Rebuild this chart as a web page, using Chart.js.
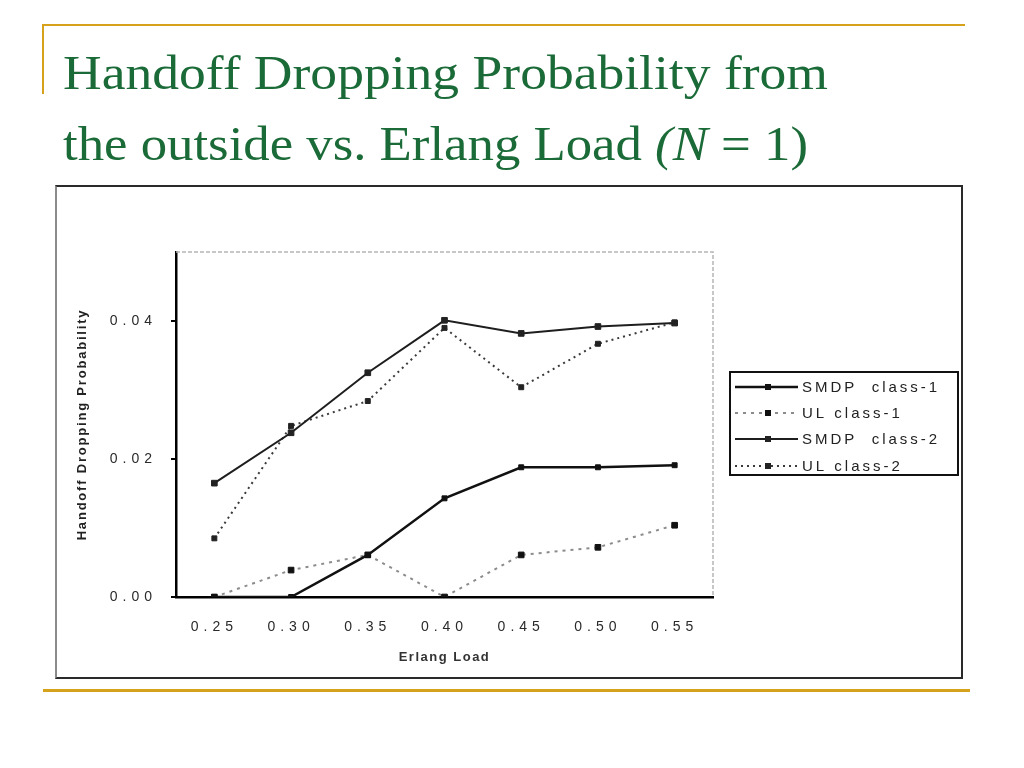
<!DOCTYPE html>
<html>
<head>
<meta charset="utf-8">
<script src="https://cdn.jsdelivr.net/npm/chart.js@4/dist/chart.umd.min.js"></script>
<style>
  html,body{margin:0;padding:0;background:#fff;}
  body{width:1024px;height:768px;position:relative;overflow:hidden;}
  .gold{position:absolute;background:#D6A21C;}
  .title{position:absolute;left:63px;font-family:"Liberation Serif","Times New Roman",serif;font-size:48px;line-height:48px;color:#1B6B38;white-space:nowrap;transform-origin:0 0;}
  #box{position:absolute;left:55px;top:185px;width:904px;height:490px;border:2px solid #2a2a2a;border-left-color:#8a8a8a;}
  #c{position:absolute;left:0;top:0;}
</style>
</head>
<body>
<div class="gold" style="left:42px;top:24px;width:923px;height:2px;"></div>
<div class="gold" style="left:42px;top:24px;width:2px;height:70px;"></div>
<div class="gold" style="left:43px;top:689px;width:927px;height:3px;"></div>
<div class="title" id="t1" data-w="765" style="top:49px;">Handoff Dropping Probability from</div>
<div class="title" id="t2" data-w="745" style="top:120px;">the outside vs. Erlang Load <i>(N</i> = 1)</div>
<div id="box"><canvas id="c" width="904" height="490"></canvas></div>
<script>
// ---- data ----
const erlangLoad = [0.25, 0.30, 0.35, 0.40, 0.45, 0.50, 0.55];
const xTickValues = [0.25, 0.30, 0.35, 0.40, 0.45, 0.50, 0.55];
const yTickValues = [0.00, 0.02, 0.04];
const seriesNames = ["SMDP  class-1", "UL class-1", "SMDP  class-2", "UL class-2"];
const smdpClass1 = [0.0000, 0.0000, 0.0061, 0.0143, 0.0188, 0.0188, 0.0191];
const ulClass1   = [0.0000, 0.0039, 0.0061, 0.0000, 0.0061, 0.0072, 0.0104];
const smdpClass2 = [0.0165, 0.0238, 0.0325, 0.0401, 0.0382, 0.0392, 0.0397];
const ulClass2   = [0.0085, 0.0248, 0.0284, 0.0390, 0.0304, 0.0367, 0.0398];
const xTitle = "Erlang Load";
const yTitle = "Handoff Dropping Probability";

// fit title widths
document.querySelectorAll('.title').forEach(el => {
  const w = el.getBoundingClientRect().width;
  const target = +el.dataset.w;
  el.style.transform = 'scaleX(' + (target / w) + ')';
});

const pts = arr => arr.map((v, i) => ({x: erlangLoad[i], y: v}));

const datasets = [
  {label: seriesNames[0], data: pts(smdpClass1), borderColor: '#111', borderWidth: 2.5, pointStyle: 'rect', pointRadius: 3.5, pointBackgroundColor: '#111', pointBorderColor: '#111'},
  {label: seriesNames[1], data: pts(ulClass1), borderColor: '#8c8c8c', borderWidth: 2, borderDash: [3, 5], pointStyle: 'rect', pointRadius: 4, pointBackgroundColor: '#111', pointBorderColor: '#111'},
  {label: seriesNames[2], data: pts(smdpClass2), borderColor: '#1e1e1e', borderWidth: 2, pointStyle: 'rect', pointRadius: 4, pointBackgroundColor: '#222', pointBorderColor: '#222'},
  {label: seriesNames[3], data: pts(ulClass2), borderColor: '#3a3a3a', borderWidth: 2, borderDash: [2, 4], pointStyle: 'rect', pointRadius: 3.5, pointBackgroundColor: '#222', pointBorderColor: '#222'}
].map(d => Object.assign({tension: 0, fill: false, pointBorderWidth: 1}, d));

const spacingPlugin = {
  id: 'spacing',
  beforeDraw(chart) {
    const ctx = chart.ctx;
    ctx.letterSpacing = '5px';
    const s = chart.scales.y;
    if (s && !s._patchedTitle) {
      const orig = s.drawTitle.bind(s);
      s.drawTitle = function () {
        ctx.save(); ctx.letterSpacing = '1.8px'; orig(); ctx.restore();
      };
      s._patchedTitle = true;
    }
    const sx = chart.scales.x;
    if (sx && !sx._patchedTitle) {
      const origx = sx.drawTitle.bind(sx);
      sx.drawTitle = function () {
        ctx.save(); ctx.letterSpacing = '1.5px'; origx(); ctx.restore();
      };
      sx._patchedTitle = true;
    }
  },
  afterDraw(chart) { chart.ctx.letterSpacing = '0px'; }
};

const framePlugin = {
  id: 'frame',
  beforeDatasetsDraw(chart) {
    const {ctx, chartArea: a} = chart;
    ctx.save();
    ctx.strokeStyle = '#b5b5b5';
    ctx.lineWidth = 1.5;
    ctx.setLineDash([4, 2]);
    ctx.beginPath();
    ctx.moveTo(a.left, a.top); ctx.lineTo(a.right, a.top); ctx.lineTo(a.right, a.bottom);
    ctx.stroke();
    ctx.restore();
  }
};

const legendPlugin = {
  id: 'boxLegend',
  afterDraw(chart) {
    const {ctx, chartArea: a} = chart;
    const L = a.right + 17, T = a.top + 120, W = 228, H = 103;
    ctx.save();
    ctx.letterSpacing = '3px';
    ctx.fillStyle = '#fff';
    ctx.fillRect(L, T, W, H);
    ctx.strokeStyle = '#111';
    ctx.lineWidth = 2;
    ctx.strokeRect(L, T, W, H);
    const rows = [15, 41, 67, 94];
    chart.data.datasets.forEach((d, i) => {
      const y = T + rows[i];
      ctx.save();
      ctx.strokeStyle = d.borderColor;
      ctx.lineWidth = d.borderWidth;
      ctx.setLineDash(d.borderDash || []);
      ctx.beginPath(); ctx.moveTo(L + 5, y); ctx.lineTo(L + 68, y); ctx.stroke();
      ctx.restore();
      ctx.fillStyle = d.pointBackgroundColor;
      ctx.fillRect(L + 35, y - 3, 6, 6);
      ctx.fillStyle = '#222';
      ctx.font = '15px "Liberation Sans", Arial, sans-serif';
      ctx.textBaseline = 'middle';
      ctx.textAlign = 'left';
      ctx.fillText(d.label, L + 72, y + 1);
    });
    ctx.restore();
  }
};

new Chart(document.getElementById('c'), {
  type: 'line',
  data: {datasets},
  options: {
    responsive: false,
    animation: false,
    layout: {padding: {top: 65, right: 248, left: 0, bottom: 0}},
    plugins: {legend: {display: false}, tooltip: {enabled: false}},
    scales: {
      x: {
        type: 'linear', min: 0.225, max: 0.575,
        afterBuildTicks: s => { s.ticks = xTickValues.map(v => ({value: v})); },
        afterFit: s => { s.height = 80; },
        grid: {display: false, drawTicks: false},
        border: {display: true, color: '#000', width: 2.5},
        ticks: {padding: 22, color: '#2a2a2a', font: {family: '"Liberation Sans", Arial, sans-serif', size: 14}, callback: v => v.toFixed(2), autoSkip: false, maxRotation: 0},
        title: {display: true, text: xTitle, color: '#333', font: {family: '"Liberation Sans", Arial, sans-serif', size: 13, weight: 'bold'}, padding: {top: 0, bottom: 12}}
      },
      y: {
        min: 0, max: 0.05,
        afterBuildTicks: s => { s.ticks = yTickValues.map(v => ({value: v})); },
        afterFit: s => { s.width = 119; },
        grid: {display: true, drawOnChartArea: false, drawTicks: true, tickLength: 5, color: '#000', lineWidth: 2},
        border: {display: true, color: '#000', width: 2.5},
        ticks: {padding: 14, color: '#2a2a2a', font: {family: '"Liberation Sans", Arial, sans-serif', size: 14}, callback: v => v.toFixed(2)},
        title: {display: true, text: yTitle, color: '#222', font: {family: '"Liberation Sans", Arial, sans-serif', size: 13, weight: 'bold'}, padding: {top: 18, bottom: 0}}
      }
    }
  },
  plugins: [spacingPlugin, framePlugin, legendPlugin]
});
</script>
</body>
</html>
